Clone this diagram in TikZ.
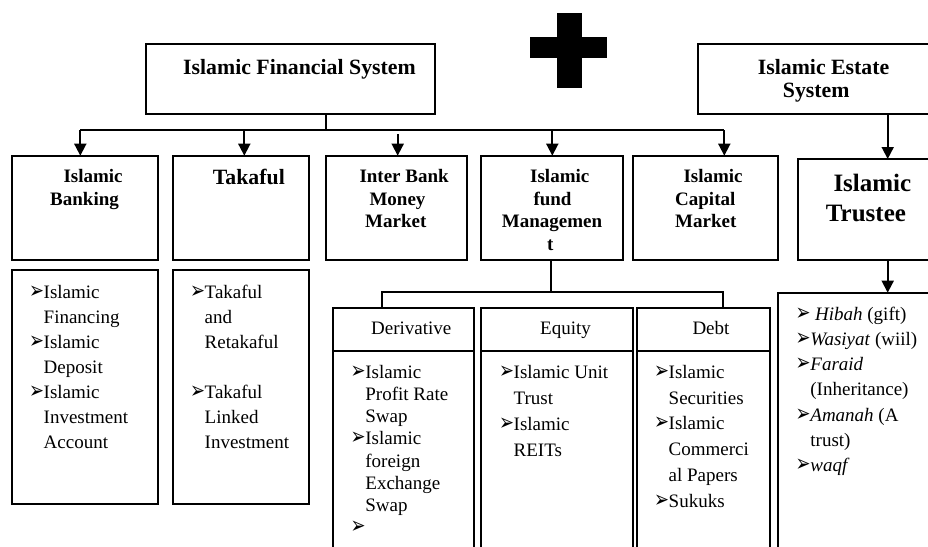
\documentclass[tikz,border=0pt]{standalone}
\usepackage{fontspec}
\usepackage{graphicx}
\setmainfont{Liberation Serif}
\newfontfamily\dv{DejaVu Sans}
\usetikzlibrary{arrows.meta}
\newcommand\bu{\makebox[13.5pt][l]{\hspace{-1.2pt}\resizebox{15pt}{12.5pt}{\dv ➢}}}
\newcommand\hi{\hspace*{13.5pt}}
\newcommand\bx[5]{\node[box, minimum width={#4-#2}, minimum height={#5-#3}] (#1) at (#2,#3) {};}
\tikzset{
  box/.style={draw, line width=1.8pt, inner sep=0pt, outer sep=0pt, anchor=north west},
  txt/.style={inner sep=0pt, anchor=base west, font=\fontsize{19}{22}\selectfont},
  hb/.style={txt, font=\fontsize{19}{22}\selectfont\bfseries},
  hbl/.style={txt, font=\fontsize{21.8}{24}\selectfont\bfseries},
  hbx/.style={txt, font=\fontsize{25}{28}\selectfont\bfseries},
  ln/.style={line width=1.8pt},
  arr/.style={line width=1.8pt, -{Triangle[length=12pt,width=12pt]}},
}
\begin{document}
\begin{tikzpicture}[x=1pt,y=-1pt]
\useasboundingbox (0,0) rectangle (928,546);
% plus sign
\fill (556.7,12.7) rectangle (581.7,88.3);
\fill (530,36.7) rectangle (606.7,58.3);
% top boxes
\bx{ifs}{146}{44}{435}{114.3}
\node[hbl] (tifs) at (183,74) {Islamic Financial System};
\bx{ies}{697.7}{44}{935}{114.3}
\node[hbl] (ties1) at (757.7,74) {Islamic Estate};
\node[hbl] (ties2) at (782.7,97.7) {System};
% second row
\bx{ib}{12}{155.7}{158.3}{260}
\node[hb] (tib1) at (63.3,182.3) {Islamic};
\node[hb] (tib2) at (50,205) {Banking};
\bx{tk}{173}{155.7}{308.7}{260}
\node[hbl] (ttk) at (212.7,184.3) {Takaful};
\bx{im}{325.7}{155.7}{466.7}{260}
\node[hb] (tim1) at (359.3,182.3) {Inter Bank};
\node[hb] (tim2) at (369.3,205) {Money};
\node[hb] (tim3) at (365,227.3) {Market};
\bx{fm}{481.3}{155.7}{623.3}{260}
\node[hb] (tfm1) at (530,182.3) {Islamic};
\node[hb] (tfm2) at (533.3,205) {fund};
\node[hb] (tfm3) at (501.7,227.3) {Managemen};
\node[hb] (tfm4) at (547,250) {t};
\bx{cm}{632.7}{155.7}{777.7}{260}
\node[hb] (tcm1) at (683.3,182.3) {Islamic};
\node[hb] (tcm2) at (675,205) {Capital};
\node[hb] (tcm3) at (675,227.3) {Market};
\bx{tr}{797.7}{159}{935}{260}
\node[hbx] (ttr1) at (833.3,191.7) {Islamic};
\node[hbx] (ttr2) at (825.7,221.7) {Trustee};
% connectors top
\coordinate (j0) at (325.7,130);
\coordinate (h1) at (80.3,130);
\coordinate (h2) at (244.3,130);
\coordinate (h3) at (397.7,134);
\coordinate (h4) at (552.3,130);
\coordinate (h5) at (724.3,130);
\draw[ln] (j0 |- ifs.south) -- (j0);
\draw[ln] (h1) -- (h5);
\draw[arr] (h1) -- (h1 |- ib.north);
\draw[arr] (h2) -- (h2 |- tk.north);
\draw[arr] (h3) -- (h3 |- im.north);
\draw[arr] (h4) -- (h4 |- fm.north);
\draw[arr] (h5) -- (h5 |- cm.north);
\coordinate (e1) at (887.7,0);
\draw[arr] (e1 |- ies.south) -- (e1 |- tr.north);
% lower lists
\bx{lb}{12}{270}{158.3}{504}
\node[txt] (tlb) at (30,298.3) {\parbox[t]{140pt}{\raggedright\fontsize{19}{25.1}\selectfont
\bu Islamic\\\hi Financing\\\bu Islamic\\\hi Deposit\\\bu Islamic\\\hi Investment\\\hi Account}};
\bx{lt}{173}{270}{308.7}{504}
\node[txt] (tlt) at (191,298.3) {\parbox[t]{140pt}{\raggedright\fontsize{19}{25.1}\selectfont
\bu Takaful\\\hi and\\\hi Retakaful\\[25.1pt]\bu Takaful\\\hi Linked\\\hi Investment}};
% trustee list
\bx{lr}{777.7}{292.7}{935}{550}
\draw[arr] (tr.south -| e1) -- (lr.north -| e1);
\node[txt] (tlr) at (796.7,320) {\parbox[t]{140pt}{\raggedright\fontsize{19}{25.3}\selectfont
\bu\ \textit{Hibah} (gift)\\\bu\textit{Wasiyat} (wiil)\\\bu\textit{Faraid}\\\hi (Inheritance)\\\bu\textit{Amanah} (A\\\hi trust)\\\bu\textit{waqf}}};
% fund management sub boxes
\bx{dv}{332.7}{307.7}{474.3}{550}
\bx{eq}{481.3}{307.7}{633.3}{550}
\bx{db}{636.7}{307.7}{770}{550}
\draw[ln] (dv.west |- 0,350.7) -- (dv.east |- 0,350.7);
\draw[ln] (eq.west |- 0,350.7) -- (eq.east |- 0,350.7);
\draw[ln] (db.west |- 0,350.7) -- (db.east |- 0,350.7);
\coordinate (k0) at (551,292.3);
\coordinate (k1) at (381.7,292.3);
\coordinate (k2) at (723.3,292.3);
\draw[ln] (k0 |- fm.south) -- (k0);
\draw[ln] (k1 |- dv.north) -- (k1) -- (k2) -- (k2 |- db.north);
\node[txt] (tdv) at (371,334) {Derivative};
\node[txt] (teq) at (540,334) {Equity};
\node[txt] (tdb) at (692.3,334) {Debt};
\node[txt] (ldv) at (351.7,378.3) {\parbox[t]{140pt}{\raggedright\fontsize{19}{22.2}\selectfont
\bu Islamic\\\hi Profit Rate\\\hi Swap\\\bu Islamic\\\hi foreign\\\hi Exchange\\\hi Swap\\\bu}};
\node[txt] (leq) at (500,378.3) {\parbox[t]{140pt}{\raggedright\fontsize{19}{26}\selectfont
\bu Islamic Unit\\\hi Trust\\\bu Islamic\\\hi REITs}};
\node[txt] (ldb) at (655,378.3) {\parbox[t]{140pt}{\raggedright\fontsize{19}{25.8}\selectfont
\bu Islamic\\\hi Securities\\\bu Islamic\\\hi Commerci\\\hi al Papers\\\bu Sukuks}};
\end{tikzpicture}
\end{document}
